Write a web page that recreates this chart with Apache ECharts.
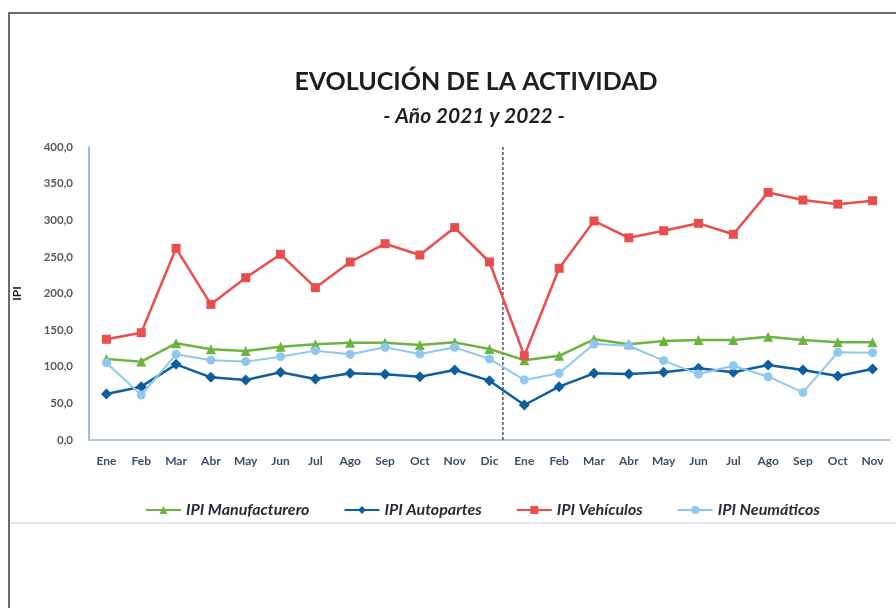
<!DOCTYPE html>
<html>
<head>
<meta charset="utf-8">
<script src="https://cdn.jsdelivr.net/npm/echarts@6/dist/echarts.min.js"></script>
<style>
  html, body { margin: 0; padding: 0; background: #ffffff; }
  #chart { width: 896px; height: 608px; }
</style>
</head>
<body>
<div id="chart"></div>
<script>
// Months for 2021 (Ene..Dic) followed by 2022 (Ene..Nov)
const months = ['Ene','Feb','Mar','Abr','May','Jun','Jul','Ago','Sep','Oct','Nov','Dic',
                'Ene','Feb','Mar','Abr','May','Jun','Jul','Ago','Sep','Oct','Nov'];

const ipiManufacturero = [110.6, 107.0, 132.0, 123.8, 121.5, 127.4, 130.6, 132.9, 132.9, 129.7, 133.3, 124.2,
                          109.0, 115.0, 137.5, 130.6, 135.0, 136.5, 136.5, 141.0, 136.5, 133.3, 133.3];
const ipiAutopartes    = [62.8, 72.8, 103.3, 85.6, 82.0, 92.4, 83.3, 91.0, 89.7, 86.4, 95.6, 81.0,
                          47.8, 72.8, 91.0, 90.0, 92.4, 97.8, 92.4, 102.4, 95.6, 87.4, 97.0];
const ipiVehiculos     = [137.5, 146.5, 261.7, 185.2, 221.6, 253.5, 208.0, 243.0, 268.0, 252.5, 290.0, 243.0,
                          115.0, 234.4, 299.0, 276.0, 285.7, 295.8, 280.8, 338.0, 327.6, 322.0, 326.7];
const ipiNeumaticos    = [105.6, 61.4, 117.0, 109.0, 107.0, 113.8, 122.0, 117.0, 126.5, 117.4, 126.5, 110.6,
                          82.0, 91.0, 131.0, 128.7, 108.3, 90.0, 101.4, 86.4, 65.0, 119.7, 119.2];

const yTicks = { min: 0, max: 400, step: 50 };

const chart = echarts.init(document.getElementById('chart'), null, { renderer: 'canvas' });

function lineSeries(name, data, color, symbol, size, width) {
  return {
    name: name,
    type: 'line',
    data: data,
    symbol: symbol,
    symbolSize: size,
    showSymbol: true,
    lineStyle: { color: color, width: width },
    itemStyle: { color: color },
    z: 3
  };
}

const option = {
  backgroundColor: '#ffffff',
  animation: false,
  title: [
    {
      text: 'EVOLUCIÓN DE LA ACTIVIDAD',
      left: 471, top: 64, textAlign: 'center',
      textStyle: { fontFamily: 'Lato', fontWeight: 'bold', fontSize: 25, color: '#1e1e1e' }
    },
    {
      text: '- Año 2021 y 2022 -',
      left: 469, top: 101, textAlign: 'center',
      textStyle: { fontFamily: 'Lato', fontWeight: 'bold', fontStyle: 'italic', fontSize: 21, color: '#1e1e1e' }
    }
  ],
  legend: {
    bottom: 85,
    left: 140,
    itemWidth: 35,
    itemHeight: 10,
    itemGap: 34,
    textStyle: { fontFamily: 'Lato', fontWeight: 'bold', fontStyle: 'italic', fontSize: 16, color: '#2a2a36' },
    data: ['IPI Manufacturero', 'IPI Autopartes', 'IPI Vehículos', 'IPI Neumáticos']
  },
  grid: { left: 89, right: 6, top: 147, bottom: 168 },
  xAxis: {
    type: 'category',
    data: months,
    boundaryGap: true,
    axisLine: { lineStyle: { color: '#9fb6c8', width: 1.5 } },
    axisTick: { show: false },
    axisLabel: { interval: 0, margin: 15, fontFamily: 'Lato', fontSize: 12, fontWeight: 'bold', color: '#3b4f66' }
  },
  yAxis: {
    type: 'value',
    min: yTicks.min, max: yTicks.max, interval: yTicks.step,
    name: 'IPI',
    nameLocation: 'middle',
    nameRotate: 90,
    nameGap: 66,
    nameTextStyle: { fontFamily: 'Lato', fontWeight: 'bold', fontSize: 12, color: '#1e1e1e' },
    axisLine: { show: true, lineStyle: { color: '#7fa6c2', width: 1.5 } },
    axisTick: { show: false },
    splitLine: { show: false },
    axisLabel: {
      margin: 16,
      fontFamily: 'Lato', fontSize: 11.5, fontWeight: 'bold', color: '#5a5a5a',
      formatter: v => v.toFixed(1).replace('.', ',')
    }
  },
  series: [
    lineSeries('IPI Manufacturero', ipiManufacturero, '#6db33f', 'triangle', 10, 2.5),
    lineSeries('IPI Autopartes', ipiAutopartes, '#0f5f9f', 'diamond', 11, 2.5),
    lineSeries('IPI Vehículos', ipiVehiculos, '#ea4d4d', 'rect', 9, 2.5),
    lineSeries('IPI Neumáticos', ipiNeumaticos, '#8ec8ee', 'circle', 9, 2)
  ]
};

chart.setOption(option);

// Divider between the two years and the page frame
const xDic = chart.convertToPixel({ xAxisIndex: 0 }, 11);
const xEne = chart.convertToPixel({ xAxisIndex: 0 }, 12);
const yTop = chart.convertToPixel({ yAxisIndex: 0 }, yTicks.max);
const yBot = chart.convertToPixel({ yAxisIndex: 0 }, yTicks.min);
const xDiv = (xDic + xEne) / 2 - 4;

chart.setOption({
  graphic: [
    {
      type: 'line', z: 1,
      shape: { x1: xDiv, y1: yTop, x2: xDiv, y2: yBot },
      style: { stroke: '#3c5a78', lineWidth: 1.5, lineDash: [3, 2] }
    },
    {
      type: 'rect', z: 0,
      shape: { x: 10, y: 522, width: 886, height: 2 },
      style: { fill: '#dfe7ed' }
    },
    {
      type: 'polyline', z: 10,
      shape: { points: [[9, 608], [9, 13], [896, 13]] },
      style: { stroke: '#3a3a3a', lineWidth: 1.5, fill: null }
    }
  ]
});
</script>
</body>
</html>
